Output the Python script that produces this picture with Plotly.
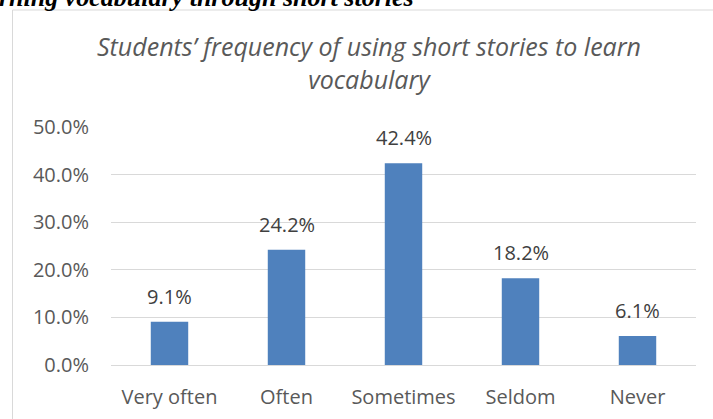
import plotly.graph_objects as go

categories = ["Very often", "Often", "Sometimes", "Seldom", "Never"]
percentages = [9.1, 24.2, 42.4, 18.2, 6.1]
y_ticks = [0, 10, 20, 30, 40, 50]

chart_title = "Students’ frequency of using short stories to learn<br>vocabulary"
caption = "rning vocabulary through short stories"

W, H = 713, 419
ml, mr, mt, mb = 111, 17, 127, 54
pw, ph = W - ml - mr, H - mt - mb


def px_x(x):
    return (x - ml) / pw


def px_y(y):
    return (H - mb - y) / ph


fig = go.Figure(go.Bar(
    x=categories, y=percentages,
    marker=dict(color="#4f81bd", line=dict(width=0)),
    width=0.32,
))

# data labels above the bars
for cat, val in zip(categories, percentages):
    fig.add_annotation(x=cat, y=val, text=f"{val:.1f}%", showarrow=False,
                       xanchor="center", yanchor="bottom", yshift=10,
                       font=dict(family="Open Sans", size=20, color="#404040"))

fig.update_layout(
    width=W, height=H,
    margin=dict(l=ml, r=mr, t=mt, b=mb),
    paper_bgcolor="white", plot_bgcolor="white",
    showlegend=False,
    font=dict(family="Open Sans", size=20, color="#595959"),
)
fig.update_yaxes(range=[0, 50], tickvals=y_ticks, ticktext=[f"{v:.1f}%" for v in y_ticks],
                 gridcolor="#d9d9d9", gridwidth=1, zeroline=False, showline=False,
                 ticks="", ticklen=0, ticklabelstandoff=21, automargin=False,
                 tickfont=dict(size=20, color="#595959"))
fig.update_xaxes(showgrid=False, showline=True, linecolor="#d9d9d9", linewidth=1,
                 ticks="", automargin=False, ticklabelstandoff=14,
                 tickfont=dict(size=20, color="#595959"))

# chart title
fig.add_annotation(text=chart_title, xref="paper", yref="paper",
                   x=px_x(369), y=px_y(62), xanchor="center", yanchor="middle",
                   showarrow=False, align="center",
                   font=dict(family="Open Sans", size=25, color="#595959", style="italic"))

# caption cut off at top of page
fig.add_annotation(text=f"<b><i>{caption}</i></b>", xref="paper", yref="paper",
                   x=px_x(-3), y=px_y(14), xanchor="left", yanchor="bottom",
                   showarrow=False,
                   font=dict(family="Liberation Serif", size=26, color="black"))

# chart area border
fig.add_shape(type="rect", xref="paper", yref="paper",
              x0=px_x(12.5), x1=px_x(W + 20), y0=px_y(H + 20), y1=px_y(10),
              line=dict(color="#d9d9d9", width=1), fillcolor="rgba(0,0,0,0)", layer="below")

fig.write_html("out.html", config={"displayModeBar": False},
               post_script="document.body.style.margin='0';")
